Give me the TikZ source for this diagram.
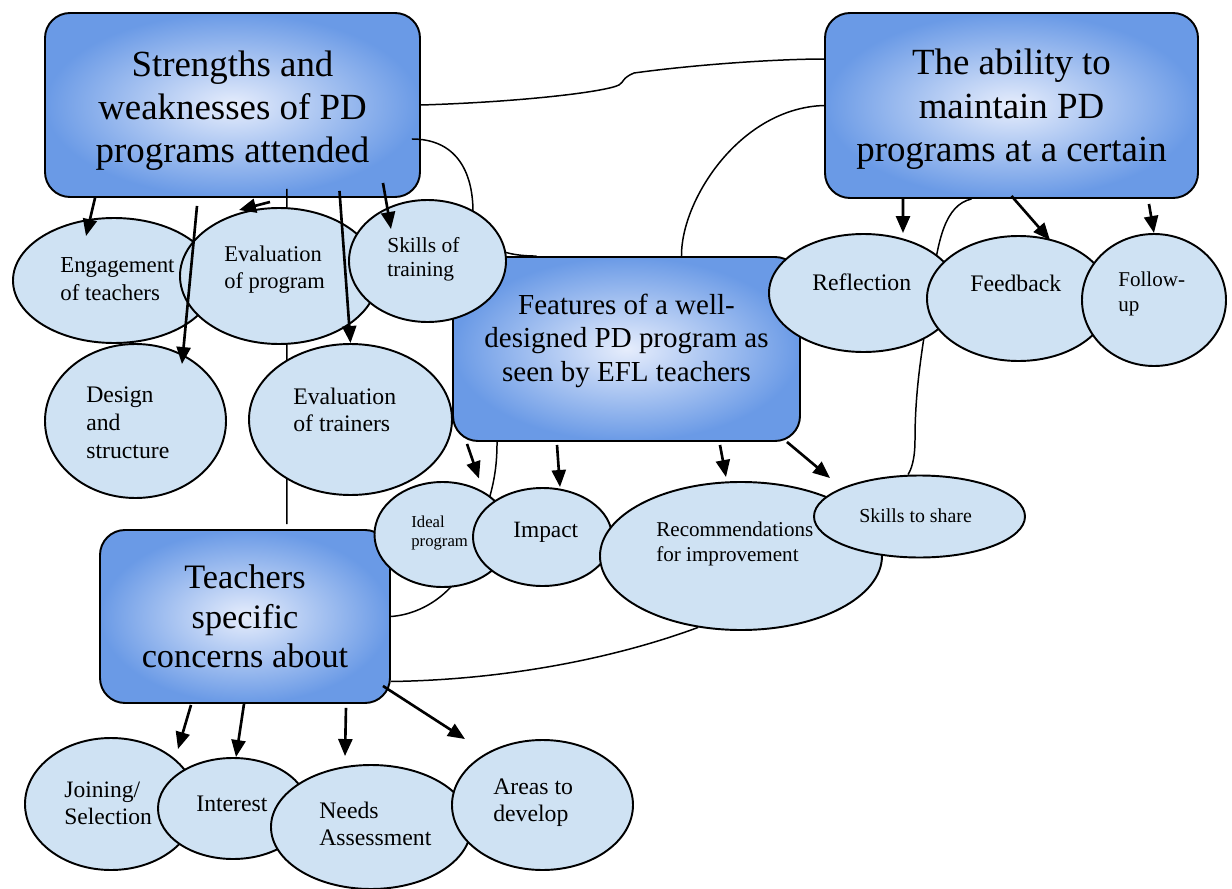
\documentclass[tikz,border=0pt]{standalone}
\usepackage{fontspec}
\setmainfont{Liberation Serif}
\usepackage{tikz}
\usepackage{xcolor}
\usetikzlibrary{arrows.meta,shapes.geometric,calc}
\definecolor{BoxBlue}{RGB}{106,154,230}
\definecolor{BoxGlow}{RGB}{230,237,252}
\definecolor{Bubble}{RGB}{207,226,243}
\pgfdeclarelayer{back}
\pgfdeclarelayer{mid}
\pgfsetlayers{back,mid,main}
\tikzset{
  topic/.style={
    rounded corners=0.5cm,draw=black,line width=1.1pt,
    shading=radial,inner color=BoxGlow,outer color=BoxBlue,
    align=center,font=\fontsize{21}{24.5}\selectfont
  },
  bubble/.style={ellipse,draw=black,line width=1.1pt,fill=Bubble,inner sep=0pt},
  dims/.style 2 args={minimum width=#1*0.02cm,minimum height=#2*0.02cm},
  btext/.style={anchor=west,align=left,inner sep=0pt,font=\fontsize{13.5}{15.8}\selectfont},
  arrow/.style={-{Triangle[length=0.34cm,width=0.28cm]},line width=1.5pt},
  link/.style={line width=0.85pt}
}

\begin{document}
\begin{tikzpicture}[x=0.02cm,y=-0.02cm]
  \useasboundingbox (0,0) rectangle (1232,889);
  \begin{pgfonlayer}{back}
    \node[topic,dims={375}{184}] (strengths) at (232.5,105) {\mbox{}\\[-3.4pt]Strengths and\\weaknesses of PD\\programs attended};
    \node[topic,dims={373}{185}] (ability) at (1011.5,105.5) {\mbox{}\\[-5.7pt]The ability to\\maintain PD\\programs at a certain};
    \node[topic,dims={347}{184},font=\fontsize{16.5}{19}\selectfont] (features) at (626.5,349) {Features of a well-\\designed PD program as\\seen by EFL teachers\\[-6pt]\mbox{}};
    \node[topic,dims={290}{173},font=\fontsize{19.5}{22.4}\selectfont] (teachers) at (245,616.5) {Teachers\\specific\\concerns about};
  \end{pgfonlayer}

  \node[bubble,dims={202}{125}] (engage) at (114,280.5) {};
  \node[bubble,dims={198}{136}] (evalprog) at (279,276) {};
  \node[bubble,dims={157}{122}] (skills) at (427.5,261) {};
  \node[bubble,dims={181}{154}] (design) at (135.5,421) {};
  \node[bubble,dims={203}{151}] (trainers) at (350.5,419.5) {};
  \node[bubble,dims={189}{118}] (refl) at (863.5,293) {};
  \node[bubble,dims={183}{125}] (feedback) at (1018.5,298.5) {};
  \node[bubble,dims={144}{132}] (follow) at (1154,300) {};
  \node[bubble,dims={136}{105}] (ideal) at (442.5,534.5) {};
  \node[bubble,dims={139}{98}] (impact) at (542.5,537) {};
  \node[bubble,dims={282}{148}] (recs) at (741,556) {};
  \node[bubble,dims={211}{82}] (share) at (919.5,516.5) {};
  \node[bubble,dims={172}{132}] (join) at (111,804) {};
  \node[bubble,dims={150}{101}] (interest) at (233,808.5) {};
  \node[bubble,dims={200}{124}] (needs) at (371,827) {};
  \node[bubble,dims={181}{130}] (areas) at (542.5,805) {};

  \node[btext,font=\fontsize{13}{15.8}\selectfont] (engageT) at (60,279) {Engagement\\of teachers};
  \node[btext,font=\fontsize{12.8}{15.3}\selectfont] (evalprogT) at (224,270) {Evaluation\\of program};
  \node[btext,font=\fontsize{12.2}{13.6}\selectfont] (skillsT) at (387,259) {Skills of\\training};
  \node[btext] (designT) at (86,423) {Design\\and\\structure};
  \node[btext] (trainersT) at (293,410) {Evaluation\\of trainers};
  \node[btext] (reflT) at (812,282) {Reflection};
  \node[btext] (feedbackT) at (970,283) {Feedback};
  \node[btext,font=\fontsize{12}{14.2}\selectfont] (followT) at (1118,294) {Follow-\\up};
  \node[btext,font=\fontsize{9.5}{11.3}\selectfont] (idealT) at (411,533) {Ideal\\program};
  \node[btext,font=\fontsize{13.3}{15.8}\selectfont] (impactT) at (513,532) {Impact};
  \node[btext,font=\fontsize{12}{14.7}\selectfont] (recsT) at (656,544) {Recommendations\\for improvement};
  \node[btext,font=\fontsize{11.3}{13.6}\selectfont] (shareT) at (859,516) {Skills to share};
  \node[btext,font=\fontsize{13.4}{15.3}\selectfont] (joinT) at (64,803) {Joining/\\Selection};
  \node[btext] (interestT) at (196,804) {Interest};
  \node[btext,font=\fontsize{13.5}{15.3}\selectfont] (needsT) at (319,824) {Needs\\Assessment};
  \node[btext,font=\fontsize{13.5}{15.3}\selectfont] (areasT) at (493,803) {Areas to\\develop};

  \begin{pgfonlayer}{mid}
    \draw[link] (strengths.east) .. controls (520,102) and (605,92) .. (619,85)
      .. controls (624,82) and (622,78) .. (634,73)
      .. controls (700,64) and (780,59) .. ([yshift=0.93cm]ability.west);
    \draw[link] ([xshift=-0.18cm,yshift=-0.68cm]strengths.east) .. controls (455,139) and (473,170) .. (473,212)
      .. controls (474,245) and (500,256) .. ([xshift=-1.8cm]features.north);
    \draw[link] (ability.west) .. controls (740,108) and (681,200) .. ([xshift=1.1cm]features.north);
    \draw[link] ([xshift=-0.8cm]ability.south) .. controls (945,205) and (938,240) .. (932,285)
      .. controls (925,335) and (915,380) .. (915,440)
      .. controls (915,460) and (911,470) .. ([xshift=-0.23cm]share.north);
    \draw[link] ([xshift=-2.59cm]features.south) .. controls (497,480) and (490,500) .. (470,555)
      .. controls (458,590) and (425,614) .. (teachers.east);
    \draw[link] ([yshift=-1.3cm]teachers.east) .. controls (500,680) and (610,660) .. (recs.-121);
    \draw[link] ([xshift=1.09cm,yshift=0.18cm]strengths.south) -- ([xshift=0.84cm,yshift=0.1cm]teachers.north);
  \end{pgfonlayer}

  \draw[arrow] ([xshift=-2.75cm]strengths.south) -- ([xshift=-0.56cm,yshift=-0.38cm]engage.north);
  \draw[arrow] ([xshift=0.75cm,yshift=-0.08cm]strengths.south) -- ([xshift=-0.8cm,yshift=-0.06cm]evalprog.north);
  \draw[arrow] ([xshift=-0.71cm,yshift=-0.16cm]strengths.south) -- ([xshift=0.93cm,yshift=-0.42cm]design.north);
  \draw[arrow] ([xshift=2.14cm,yshift=0.14cm]strengths.south) -- (trainers.north);
  \draw[arrow] ([xshift=3.01cm,yshift=0.3cm]strengths.south) -- ([xshift=-0.73cm,yshift=-0.6cm]skills.north);
  \draw[arrow] ([xshift=-2.17cm]ability.south) -- ([xshift=0.79cm]refl.north);
  \draw[arrow] ([yshift=0.06cm]ability.south) -- ([xshift=0.63cm,yshift=-0.1cm]feedback.north);
  \draw[arrow] ([xshift=2.75cm,yshift=-0.1cm]ability.south) -- (follow.north);
  \draw[arrow] ([xshift=-3.19cm,yshift=-0.04cm]features.south) -- ([xshift=0.73cm,yshift=0.05cm]ideal.north);
  \draw[arrow] ([xshift=-1.39cm,yshift=-0.06cm]features.south) -- ([xshift=0.35cm]impact.north);
  \draw[arrow] ([xshift=1.87cm,yshift=-0.06cm]features.south) -- ([xshift=-0.3cm,yshift=0.08cm]recs.north);
  \draw[arrow] ([xshift=3.21cm]features.south) -- ([xshift=-1.79cm,yshift=-0.07cm]share.north);
  \draw[arrow] ([xshift=-1.08cm,yshift=-0.02cm]teachers.south) -- ([xshift=1.34cm,yshift=-0.24cm]join.north);
  \draw[arrow] ([xshift=-0.02cm]teachers.south) -- ([xshift=0.06cm]interest.north);
  \draw[arrow] ([xshift=2.02cm,yshift=-0.08cm]teachers.south) -- ([xshift=-0.52cm,yshift=0.16cm]needs.north);
  \draw[arrow] ([xshift=-0.16cm,yshift=0.36cm]teachers.south east) -- ([xshift=-1.55cm]areas.north);
\end{tikzpicture}
\end{document}
